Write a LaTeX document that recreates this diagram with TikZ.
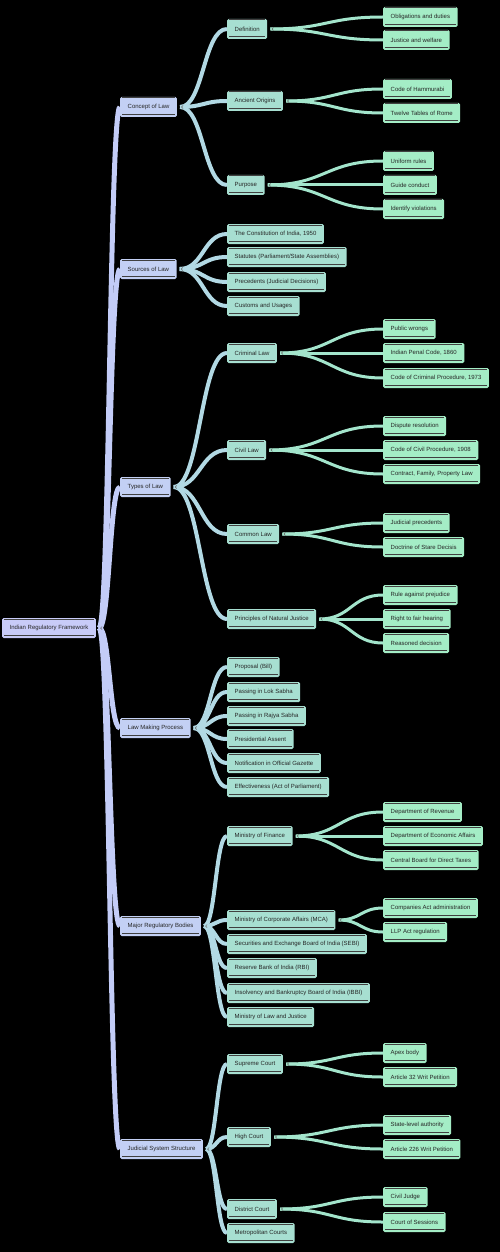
\documentclass[tikz,border=0pt]{standalone}
\usepackage{fontspec}
\setmainfont{Liberation Sans}
\usetikzlibrary{calc}
\pgfdeclarelayer{bg}
\pgfdeclarelayer{links}
\pgfsetlayers{bg,links,main}
\definecolor{cRoot}{HTML}{C8CBF8}
\definecolor{cLone}{HTML}{C3D0F4}
\definecolor{cLtwo}{HTML}{A7DFD1}
\definecolor{cLthree}{HTML}{A4EDC6}
\definecolor{kOne}{HTML}{C3CCF7}
\definecolor{kTwo}{HTML}{B2D9E4}
\definecolor{kThree}{HTML}{A3E5CC}
\tikzset{
  box/.style={anchor=west, rounded corners=1.5pt, minimum height=20pt, inner xsep=7.5pt, inner ysep=0pt,
    font=\fontsize{6}{7}\selectfont, text=black!85},
  rootbox/.style={box, fill=cRoot},
  lone/.style={box, fill=cLone},
  ltwo/.style={box, fill=cLtwo},
  lthree/.style={box, fill=cLthree},
  edgeline/.style={draw=black!75, line width=0.6pt},
  linkone/.style={draw=kOne, line width=5pt},
  linktwo/.style={draw=kTwo, line width=4pt},
  linkthree/.style={draw=kThree, line width=3pt},
  indic/.style={draw=black!60, line width=0.5pt},
}
\newcommand\mm[5]{%
  \node[#4] (#1) at (#2,#3) {#5};
  \draw[edgeline] ([xshift=2pt,yshift=-1pt]#1.north west) -- ([xshift=-2pt,yshift=-1pt]#1.north east);
  \draw[edgeline] ([xshift=2pt,yshift=2.5pt]#1.south west) -- ([xshift=-2pt,yshift=2.5pt]#1.south east);
}
\newcommand\lk[3]{%
  \coordinate (s) at ($(#1.east)+(3pt,0pt)$);
  \coordinate (t) at (#2.west);
  \coordinate (m) at ($(s)!.5!(t)$);
  \draw[#3] (s) .. controls (m |- s) and (m |- t) .. (t);
}
\newcommand\ind[1]{%
  \draw[indic] ($(#1.east)+(6pt,1.5pt)$) -- ($(#1.east)+(4.5pt,0pt)$) -- ($(#1.east)+(6pt,-1.5pt)$);
}
\begin{document}
\begin{tikzpicture}[x=1pt,y=-1pt]
\begin{pgfonlayer}{bg}
\fill[black] (0,0) rectangle (500,1252);
\end{pgfonlayer}
\useasboundingbox (0,0) rectangle (500,1252);
% root
\mm{root}{2}{628}{rootbox}{Indian Regulatory Framework}
% level 1
\mm{c1}{120}{107}{lone}{Concept of Law}
\mm{c2}{120}{269}{lone}{Sources of Law}
\mm{c3}{120}{487}{lone}{Types of Law}
\mm{c4}{120}{728}{lone}{Law Making Process}
\mm{c5}{120}{926}{lone}{Major Regulatory Bodies}
\mm{c6}{120}{1149}{lone}{Judicial System Structure}
% level 2
\mm{d11}{227}{29}{ltwo}{Definition}
\mm{d12}{227}{101}{ltwo}{Ancient Origins}
\mm{d13}{227}{185}{ltwo}{Purpose}
\mm{d21}{227}{234}{ltwo}{The Constitution of India, 1950}
\mm{d22}{227}{257}{ltwo}{Statutes (Parliament/State Assemblies)}
\mm{d23}{227}{282}{ltwo}{Precedents (Judicial Decisions)}
\mm{d24}{227}{306}{ltwo}{Customs and Usages}
\mm{d31}{227}{353}{ltwo}{Criminal Law}
\mm{d32}{227}{450}{ltwo}{Civil Law}
\mm{d33}{227}{534}{ltwo}{Common Law}
\mm{d34}{227}{619}{ltwo}{Principles of Natural Justice}
\mm{d41}{227}{667}{ltwo}{Proposal (Bill)}
\mm{d42}{227}{692}{ltwo}{Passing in Lok Sabha}
\mm{d43}{227}{716}{ltwo}{Passing in Rajya Sabha}
\mm{d44}{227}{739}{ltwo}{Presidential Assent}
\mm{d45}{227}{763}{ltwo}{Notification in Official Gazette}
\mm{d46}{227}{787}{ltwo}{Effectiveness (Act of Parliament)}
\mm{d51}{227}{836}{ltwo}{Ministry of Finance}
\mm{d52}{227}{920}{ltwo}{Ministry of Corporate Affairs (MCA)}
\mm{d53}{227}{944}{ltwo}{Securities and Exchange Board of India (SEBI)}
\mm{d54}{227}{968}{ltwo}{Reserve Bank of India (RBI)}
\mm{d55}{227}{993}{ltwo}{Insolvency and Bankruptcy Board of India (IBBI)}
\mm{d56}{227}{1017}{ltwo}{Ministry of Law and Justice}
\mm{d61}{227}{1064}{ltwo}{Supreme Court}
\mm{d62}{227}{1137}{ltwo}{High Court}
\mm{d63}{227}{1209}{ltwo}{District Court}
\mm{d64}{227}{1233}{ltwo}{Metropolitan Courts}
% level 3
\mm{e111}{383}{17}{lthree}{Obligations and duties}
\mm{e112}{383}{40}{lthree}{Justice and welfare}
\mm{e121}{383}{89}{lthree}{Code of Hammurabi}
\mm{e122}{383}{113}{lthree}{Twelve Tables of Rome}
\mm{e131}{383}{161}{lthree}{Uniform rules}
\mm{e132}{383}{185}{lthree}{Guide conduct}
\mm{e133}{383}{209}{lthree}{Identify violations}
\mm{e311}{383}{329}{lthree}{Public wrongs}
\mm{e312}{383}{353}{lthree}{Indian Penal Code, 1860}
\mm{e313}{383}{378}{lthree}{Code of Criminal Procedure, 1973}
\mm{e321}{383}{426}{lthree}{Dispute resolution}
\mm{e322}{383}{450}{lthree}{Code of Civil Procedure, 1908}
\mm{e323}{383}{474}{lthree}{Contract, Family, Property Law}
\mm{e331}{383}{523}{lthree}{Judicial precedents}
\mm{e332}{383}{547}{lthree}{Doctrine of Stare Decisis}
\mm{e341}{383}{595}{lthree}{Rule against prejudice}
\mm{e342}{383}{619}{lthree}{Right to fair hearing}
\mm{e343}{383}{643}{lthree}{Reasoned decision}
\mm{e511}{383}{812}{lthree}{Department of Revenue}
\mm{e512}{383}{836}{lthree}{Department of Economic Affairs}
\mm{e513}{383}{860}{lthree}{Central Board for Direct Taxes}
\mm{e521}{383}{908}{lthree}{Companies Act administration}
\mm{e522}{383}{932}{lthree}{LLP Act regulation}
\mm{e611}{383}{1053}{lthree}{Apex body}
\mm{e612}{383}{1077}{lthree}{Article 32 Writ Petition}
\mm{e621}{383}{1125}{lthree}{State-level authority}
\mm{e622}{383}{1149}{lthree}{Article 226 Writ Petition}
\mm{e631}{383}{1197}{lthree}{Civil Judge}
\mm{e632}{383}{1222}{lthree}{Court of Sessions}
% links
\begin{pgfonlayer}{links}
\lk{root}{c1}{linkone}\lk{root}{c2}{linkone}\lk{root}{c3}{linkone}
\lk{root}{c4}{linkone}\lk{root}{c5}{linkone}\lk{root}{c6}{linkone}
\lk{c1}{d11}{linktwo}\lk{c1}{d12}{linktwo}\lk{c1}{d13}{linktwo}
\lk{c2}{d21}{linktwo}\lk{c2}{d22}{linktwo}\lk{c2}{d23}{linktwo}\lk{c2}{d24}{linktwo}
\lk{c3}{d31}{linktwo}\lk{c3}{d32}{linktwo}\lk{c3}{d33}{linktwo}\lk{c3}{d34}{linktwo}
\lk{c4}{d41}{linktwo}\lk{c4}{d42}{linktwo}\lk{c4}{d43}{linktwo}
\lk{c4}{d44}{linktwo}\lk{c4}{d45}{linktwo}\lk{c4}{d46}{linktwo}
\lk{c5}{d51}{linktwo}\lk{c5}{d52}{linktwo}\lk{c5}{d53}{linktwo}
\lk{c5}{d54}{linktwo}\lk{c5}{d55}{linktwo}\lk{c5}{d56}{linktwo}
\lk{c6}{d61}{linktwo}\lk{c6}{d62}{linktwo}\lk{c6}{d63}{linktwo}\lk{c6}{d64}{linktwo}
\lk{d11}{e111}{linkthree}\lk{d11}{e112}{linkthree}
\lk{d12}{e121}{linkthree}\lk{d12}{e122}{linkthree}
\lk{d13}{e131}{linkthree}\lk{d13}{e132}{linkthree}\lk{d13}{e133}{linkthree}
\lk{d31}{e311}{linkthree}\lk{d31}{e312}{linkthree}\lk{d31}{e313}{linkthree}
\lk{d32}{e321}{linkthree}\lk{d32}{e322}{linkthree}\lk{d32}{e323}{linkthree}
\lk{d33}{e331}{linkthree}\lk{d33}{e332}{linkthree}
\lk{d34}{e341}{linkthree}\lk{d34}{e342}{linkthree}\lk{d34}{e343}{linkthree}
\lk{d51}{e511}{linkthree}\lk{d51}{e512}{linkthree}\lk{d51}{e513}{linkthree}
\lk{d52}{e521}{linkthree}\lk{d52}{e522}{linkthree}
\lk{d61}{e611}{linkthree}\lk{d61}{e612}{linkthree}
\lk{d62}{e621}{linkthree}\lk{d62}{e622}{linkthree}
\lk{d63}{e631}{linkthree}\lk{d63}{e632}{linkthree}
\end{pgfonlayer}
% collapse indicators
\ind{root}\ind{c1}\ind{c2}\ind{c3}\ind{c4}\ind{c5}\ind{c6}
\ind{d11}\ind{d12}\ind{d13}\ind{d31}\ind{d32}\ind{d33}\ind{d34}
\ind{d51}\ind{d52}\ind{d61}\ind{d62}\ind{d63}
\end{tikzpicture}
\end{document}
